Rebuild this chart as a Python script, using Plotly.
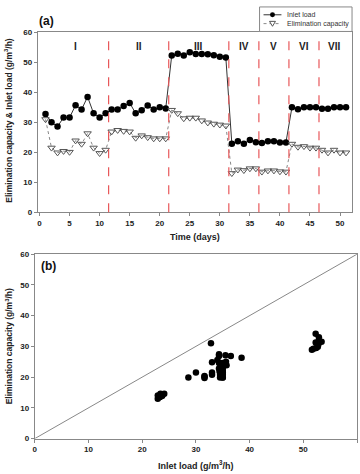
import plotly.graph_objects as go

days = list(range(1, 52))
inlet_load = [32.8, 30.0, 28.6, 31.6, 31.6, 35.7, 34.3, 38.5, 33.0, 31.6,
              33.0, 34.3, 34.3, 35.5, 36.5, 33.0, 34.0, 35.6, 34.3, 35.0,
              34.6, 52.3, 52.9, 52.3, 53.4, 52.8, 52.8, 52.7, 52.4, 51.9,
              51.6, 22.9, 23.7, 22.9, 24.1, 23.4, 23.1, 23.7, 23.7, 23.3,
              23.3, 35.0, 34.4, 35.0, 35.0, 35.0, 34.5, 34.5, 35.0, 35.0, 35.0]
elim_cap = [31.0, 21.5, 19.9, 20.4, 20.1, 23.9, 22.8, 26.3, 21.5, 19.7,
            20.8, 26.9, 27.4, 27.1, 26.9, 24.8, 25.6, 25.0, 24.6, 24.6,
            24.6, 34.1, 33.0, 31.3, 31.5, 31.5, 30.6, 29.9, 29.5, 29.2,
            28.9, 13.0, 14.2, 14.0, 14.6, 14.6, 13.5, 13.9, 13.9, 13.6,
            13.5, 22.8, 21.8, 22.0, 21.5, 21.5, 20.8, 19.9, 20.8, 19.9, 19.9]
phase_bounds = [11.5, 21.5, 31.5, 36.5, 41.5, 46.5]
phase_labels = ["I", "II", "III", "IV", "V", "VI", "VII"]
phase_centers = [6, 16.5, 26.5, 34, 39, 44, 49]
x_ticks_a = [0, 5, 10, 15, 20, 25, 30, 35, 40, 45, 50]
ticks_b = [0, 10, 20, 30, 40, 50, 60]
legend_names = ["Inlet load", "Elimination capacity"]

FONT = "Liberation Sans, Arial, sans-serif"
H = 474.0
W = 360.0


def px(x):
    return x / W


def py(y):
    return 1 - y / H


inlet_line = dict(color="#333333", width=1)
ec_line = dict(color="#888888", width=1, dash="dot")

fig = go.Figure()

fig.add_trace(go.Scatter(
    x=days, y=inlet_load, mode="lines+markers", name=legend_names[0], showlegend=False,
    line=inlet_line,
    marker=dict(symbol="circle", size=6.5, color="black"),
    xaxis="x", yaxis="y"))
fig.add_trace(go.Scatter(
    x=days, y=elim_cap, mode="lines+markers", name=legend_names[1],
    showlegend=False, line=ec_line,
    marker=dict(symbol="triangle-down-open", size=6.5, color="#555555",
                line=dict(width=1)),
    xaxis="x", yaxis="y"))

fig.add_trace(go.Scatter(
    x=inlet_load, y=elim_cap, mode="markers", showlegend=False,
    marker=dict(symbol="circle", size=6.5, color="black"),
    xaxis="x2", yaxis="y2"))
fig.add_trace(go.Scatter(
    x=[0, 60], y=[0, 60], mode="lines", showlegend=False,
    line=dict(color="#888888", width=1),
    xaxis="x2", yaxis="y2"))

for b in phase_bounds:
    fig.add_shape(type="line", xref="x", yref="y domain", x0=b, x1=b, y0=0, y1=1,
                  line=dict(color="#e8585a", width=1.2, dash="dash"))
for lab, c in zip(phase_labels, phase_centers):
    fig.add_annotation(x=c, y=55.3, xref="x", yref="y", text="<b>%s</b>" % lab,
                       showarrow=False, font=dict(family=FONT, size=10, color="#222"))

# manual legend (compact, like the reference)
fig.add_shape(type="rect", xref="paper", yref="paper", x0=px(259), x1=px(352),
              y0=py(28), y1=py(3), line=dict(color="#888888", width=1),
              fillcolor="white", layer="above")
rows = [11, 20]
fig.add_shape(type="line", xref="paper", yref="paper", x0=px(263), x1=px(281),
              y0=py(rows[0]), y1=py(rows[0]), line=dict(color="#333333", width=1),
              layer="above")
fig.add_shape(type="circle", xref="paper", yref="paper", x0=px(269.5), x1=px(274.5),
              y0=py(rows[0] + 2.5), y1=py(rows[0] - 2.5),
              line=dict(color="black", width=0), fillcolor="black", layer="above")
fig.add_shape(type="line", xref="paper", yref="paper", x0=px(263), x1=px(281),
              y0=py(rows[1]), y1=py(rows[1]),
              line=dict(color="#888888", width=1, dash="dot"), layer="above")
tri = "M %f,%f L %f,%f L %f,%f Z" % (px(269), py(rows[1] - 2.3), px(275), py(rows[1] - 2.3),
                                     px(272), py(rows[1] + 2.7))
fig.add_shape(type="path", xref="paper", yref="paper", path=tri,
              line=dict(color="#555555", width=1), fillcolor="white", layer="above")
for name, r in zip(legend_names, rows):
    fig.add_annotation(x=px(285), y=py(r), xref="paper", yref="paper", text=name,
                       showarrow=False, xanchor="left", yanchor="middle",
                       font=dict(family=FONT, size=7, color="#333"))

ax_common = dict(showline=True, linecolor="#888888", linewidth=1, mirror=True,
                 ticks="outside", ticklen=3, tickcolor="#888888", showgrid=False,
                 zeroline=False,
                 tickfont=dict(family=FONT, size=8, color="#222", weight="bold"))

fig.update_layout(
    width=360, height=474,
    margin=dict(l=0, r=0, t=0, b=0),
    plot_bgcolor="white", paper_bgcolor="white",
    showlegend=False,
    xaxis=dict(domain=[35.9 / W, 352 / W], range=[-0.3, 52], tickvals=x_ticks_a,
               anchor="y", **ax_common),
    yaxis=dict(domain=[1 - 212.3 / H, 1 - 29 / H], range=[0, 60], dtick=10,
               anchor="x", **ax_common),
    xaxis2=dict(domain=[33 / W, 357 / W], range=[0, 60], tickvals=ticks_b,
                anchor="y2", **ax_common),
    yaxis2=dict(domain=[1 - 443 / H, 1 - 255 / H], range=[0, 60], tickvals=ticks_b,
                anchor="x2", **ax_common),
    font=dict(family=FONT),
)

# panel labels
fig.add_annotation(x=px(35), y=py(17), xref="paper", yref="paper", text="<b>(a)</b>",
                   showarrow=False, xanchor="left", yanchor="middle",
                   font=dict(family=FONT, size=12, color="#111"))
fig.add_annotation(x=px(37), y=py(267), xref="paper", yref="paper", text="<b>(b)</b>",
                   showarrow=False, xanchor="left", yanchor="middle",
                   font=dict(family=FONT, size=12, color="#111"))

# axis titles
fig.add_annotation(x=px(7), y=py(118), xref="paper", yref="paper",
                   text="<b>Elimination capacity & Inlet load (g/m<sup>3</sup>/h)</b>",
                   textangle=-90, showarrow=False, xanchor="center", yanchor="middle",
                   font=dict(family=FONT, size=8.5, color="#222"))
fig.add_annotation(x=px(194), y=py(238), xref="paper", yref="paper",
                   text="<b>Time (days)</b>", showarrow=False,
                   xanchor="center", yanchor="middle",
                   font=dict(family=FONT, size=9, color="#222"))
fig.add_annotation(x=px(7), y=py(349), xref="paper", yref="paper",
                   text="<b>Elimination capacity (g/m<sup>3</sup>/h)</b>",
                   textangle=-90, showarrow=False, xanchor="center", yanchor="middle",
                   font=dict(family=FONT, size=8.5, color="#222"))
fig.add_annotation(x=px(195), y=py(470), xref="paper", yref="paper",
                   text="<b>Inlet load (g/m<sup>3</sup>/h)</b>", showarrow=False,
                   xanchor="center", yanchor="middle",
                   font=dict(family=FONT, size=9, color="#222"))

fig.write_html("out.html")
